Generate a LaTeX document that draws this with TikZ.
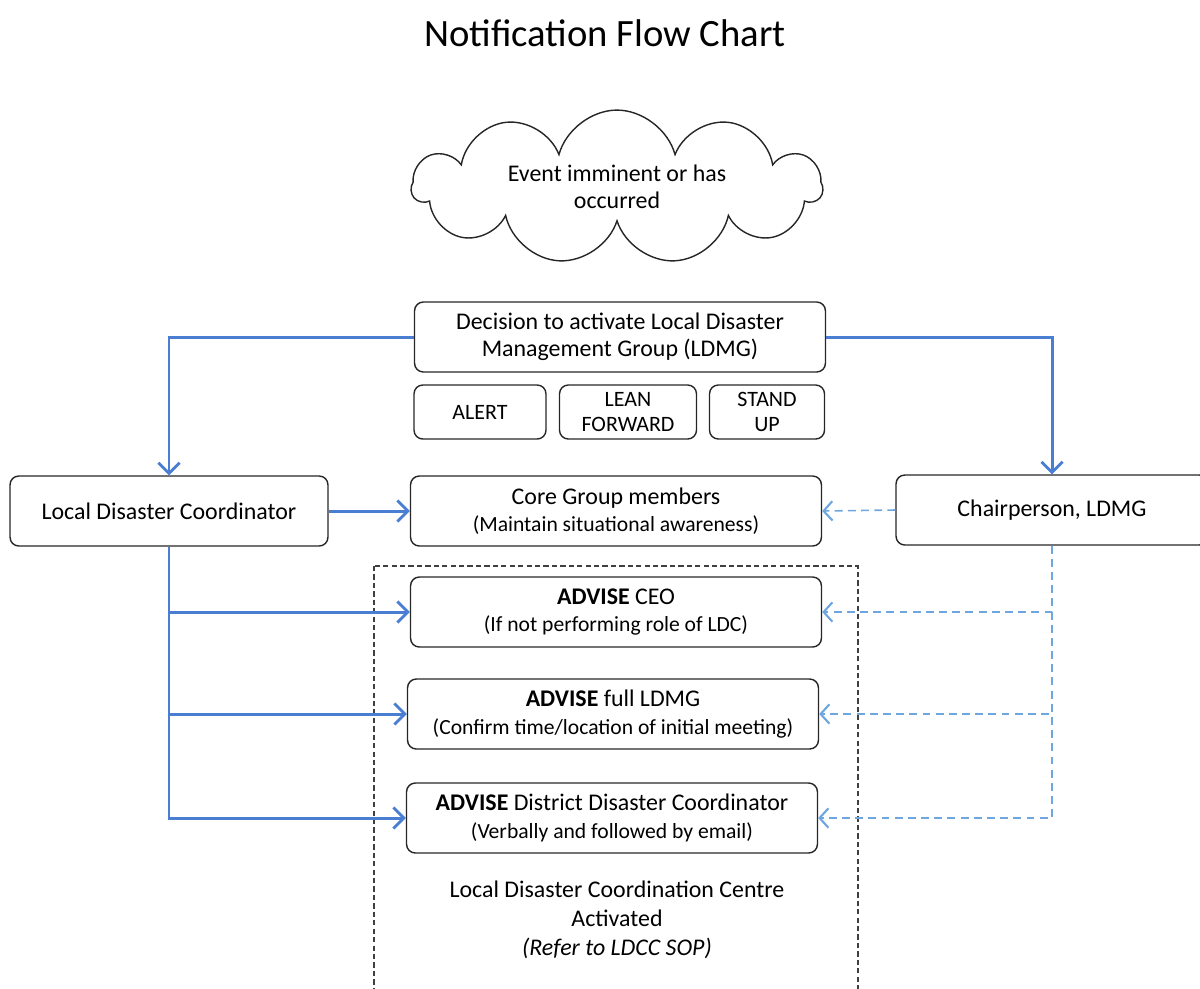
\documentclass[tikz,border=0pt]{standalone}
\usepackage{fontspec}
\setmainfont{Carlito}
\usetikzlibrary{positioning,arrows.meta,shapes.symbols}

\definecolor{flowblue}{RGB}{74,126,210}
\definecolor{dashblue}{RGB}{110,166,224}

\newcommand{\subline}[1]{{\fontsize{12.3}{15}\selectfont #1}}

\begin{document}
\begin{tikzpicture}[x=0.02cm,y=-0.02cm,
        every node/.style = {align=center,inner sep=1pt,font=\fontsize{13.6}{15.5}\selectfont},
        box/.style = {draw=black!85,line width=0.8pt,rounded corners=5pt,minimum width=8.22cm,minimum height=1.4cm},
        smallbox/.style = {draw=black!85,line width=0.8pt,rounded corners=5pt,minimum height=1.08cm,font=\fontsize{12.5}{14.5}\selectfont},
        lineblue/.style = {draw=flowblue,line width=1.7pt,-{Straight Barb[length=6pt,width=12pt,line width=1.6pt]}},
        linedash/.style = {draw=dashblue,line width=0.9pt,dash pattern=on 4.5pt off 3pt,-{Straight Barb[length=5pt,width=11pt,line width=1.2pt]}},
        ]
        \useasboundingbox (0,0) rectangle (1200,988);
        \node (title) at (605,33) {\fontsize{22}{26}\selectfont Notification Flow Chart};
        \node[cloud,draw=black!85,line width=0.8pt,cloud puffs=11,aspect=3.4,inner sep=0pt,minimum width=8.2cm,minimum height=2.6cm] (node-event) at (617,187) {Event imminent or has\\occurred};

        \node[box] (node-decision) at (620,337) {Decision to activate Local Disaster\\Management Group (LDMG)};
        \node[smallbox,minimum width=2.64cm] (node-alert) at (480,412) {ALERT};
        \node[smallbox,minimum width=2.74cm] (node-lean) at (628,412) {LEAN\\FORWARD};
        \node[smallbox,minimum width=2.3cm] (node-stand) at (767,412) {STAND\\UP};

        \node[box,minimum width=6.36cm] (node-ldc) at (169,511) {Local Disaster Coordinator};
        \node[box] (node-core) at (616,511) {Core Group members\\\subline{(Maintain situational awareness)}};
        \node[box,minimum width=6.24cm] (node-chair) at (1052,510) {Chairperson, LDMG};

        % activation centre
        \draw[black!75,line width=0.7pt,dash pattern=on 3pt off 1.8pt] (374,566) rectangle (858,1000);
        \node[box] (node-ceo) at (616,612) {\textbf{ADVISE} CEO\\\subline{(If not performing role of LDC)}};
        \node[box] (node-ldmg) at (613,714) {\textbf{ADVISE} full LDMG\\\subline{(Confirm time/location of initial meeting)}};
        \node[box] (node-ddc) at (612,818) {\textbf{ADVISE} District Disaster Coordinator\\\subline{(Verbally and followed by email)}};
        \node[font=\fontsize{13.6}{16.5}\selectfont] (node-ldcc) at (617,920) {Local Disaster Coordination Centre\\Activated\\\textit{(Refer to LDCC SOP)}};

        \draw[lineblue] (node-decision.west) -| (node-ldc.north);
        \draw[lineblue] (node-decision.east) -| (node-chair.north);
        \draw[lineblue] (node-ldc.east) -- (node-core.west);
        \foreach \n in {ceo,ldmg,ddc}
            \draw[lineblue] (node-ldc.south) |- (node-\n.west);
        \draw[linedash] (node-chair.west) -- (node-core.east);
        \foreach \n in {ceo,ldmg,ddc}
            \draw[linedash] (node-chair.south) |- (node-\n.east);
    \end{tikzpicture}
\end{document}
